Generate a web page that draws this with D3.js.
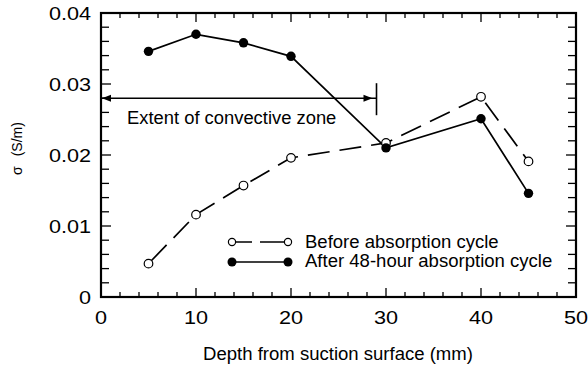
<!DOCTYPE html>
<html>
<head>
<meta charset="utf-8">
<script src="https://cdn.jsdelivr.net/npm/d3@7"></script>
<style>
  body { margin: 0; background: #fff; }
  text { font-family: "Liberation Sans", Arial, sans-serif; fill: #000; }
</style>
</head>
<body>
<div id="chart"></div>
<script>
const depths = [5, 10, 15, 20, 30, 40, 45];
const beforeValues = [0.0047, 0.0116, 0.0157, 0.0196, 0.0217, 0.0282, 0.0191];
const afterValues = [0.0346, 0.0370, 0.0358, 0.0339, 0.0210, 0.0251, 0.0146];
const xTicks = [0, 10, 20, 30, 40, 50];
const yTicks = [0, 0.01, 0.02, 0.03, 0.04];
const zoneExtent = [0, 29];
const zoneLevel = 0.028;

const W = 588, H = 366;
const margin = { top: 13, right: 12, bottom: 69, left: 101 };
const width = W - margin.left - margin.right;
const height = H - margin.top - margin.bottom;

const svg = d3.select('#chart').append('svg')
  .attr('width', W).attr('height', H);
const g = svg.append('g').attr('transform', `translate(${margin.left},${margin.top})`);

const x = d3.scaleLinear().domain([0, 50]).range([0, width]);
const y = d3.scaleLinear().domain([0, 0.04]).range([height, 0]);

// text placed with a slight horizontal stretch, like the source figure
function label(parent, px, py, str, size, sx, anchor) {
  return parent.append('text')
    .attr('transform', `translate(${px},${py}) scale(${sx},1)`)
    .attr('text-anchor', anchor || 'start')
    .style('font-size', size + 'px')
    .text(str);
}

// ticks (inside, all four sides)
const xMinor = d3.range(0, 50.01, 2);
const yMinor = d3.range(0, 0.04001, 0.002);
const tickG = g.append('g').attr('stroke', '#000').attr('stroke-width', 1.3);
xMinor.forEach(v => {
  const major = Math.abs(v % 10) < 1e-9;
  const len = major ? 9 : 5;
  tickG.append('line').attr('x1', x(v)).attr('x2', x(v)).attr('y1', height).attr('y2', height - len);
  tickG.append('line').attr('x1', x(v)).attr('x2', x(v)).attr('y1', 0).attr('y2', len);
});
yMinor.forEach(v => {
  const major = Math.abs(Math.round(v * 1000) % 10) === 0;
  const len = major ? 10 : 8;
  tickG.append('line').attr('y1', y(v)).attr('y2', y(v)).attr('x1', 0).attr('x2', len);
  tickG.append('line').attr('y1', y(v)).attr('y2', y(v)).attr('x1', width).attr('x2', width - len);
});

// frame
g.append('rect').attr('width', width).attr('height', height)
  .attr('fill', 'none').attr('stroke', '#000').attr('stroke-width', 2.2);

// tick labels
xTicks.forEach(d => label(g, x(d), height + 27, d, 18.5, 1.17, 'middle'));
yTicks.forEach(d => label(g, -10, y(d) + 7, d === 0 ? '0' : d.toFixed(2), 18.5, 1.17, 'end'));

// axis titles
label(g, 338 - margin.left, height + 63, 'Depth from suction surface (mm)', 17.5, 1.06, 'middle');
const yt = g.append('text')
  .attr('transform', `translate(${22 - margin.left},${175 - margin.top}) rotate(-90)`)
  .style('font-size', '14px');
yt.append('tspan').text('σ');
yt.append('tspan').attr('dx', 10).text('(S/m)');

// convective zone arrow
const zy = y(zoneLevel);
g.append('line').attr('x1', x(zoneExtent[0])).attr('x2', x(zoneExtent[1]))
  .attr('y1', zy).attr('y2', zy).attr('stroke', '#000').attr('stroke-width', 1.5);
g.append('line').attr('x1', x(zoneExtent[1])).attr('x2', x(zoneExtent[1]))
  .attr('y1', zy - 15).attr('y2', zy + 17).attr('stroke', '#000').attr('stroke-width', 1.6);
const ax0 = x(zoneExtent[0]) + 1, ax1 = x(zoneExtent[1]) - 4;
g.append('path').attr('d', `M${ax0},${zy} l9,-3.5 l0,7 Z`).attr('fill', '#000');
g.append('path').attr('d', `M${ax1},${zy} l-9,-3.5 l0,7 Z`).attr('fill', '#000');
label(g, 127 - margin.left, zy + 26, 'Extent of convective zone', 17.5, 1.05);

const line = d3.line().x(d => x(d[0])).y(d => y(d[1]));
const before = depths.map((d, i) => [d, beforeValues[i]]);
const after = depths.map((d, i) => [d, afterValues[i]]);

g.append('path').datum(before).attr('d', line).attr('fill', 'none')
  .attr('stroke', '#000').attr('stroke-width', 1.7).attr('stroke-dasharray', '22,10')
  .attr('stroke-dashoffset', -4);
g.append('path').datum(after).attr('d', line).attr('fill', 'none')
  .attr('stroke', '#000').attr('stroke-width', 1.7);

g.selectAll('.ob').data(before).enter().append('circle')
  .attr('cx', d => x(d[0])).attr('cy', d => y(d[1])).attr('r', 4.3)
  .attr('fill', '#fff').attr('stroke', '#000').attr('stroke-width', 1.2);
g.selectAll('.fa').data(after).enter().append('circle')
  .attr('cx', d => x(d[0])).attr('cy', d => y(d[1])).attr('r', 4.7)
  .attr('fill', '#000');

// legend
const lg = g.append('g').attr('transform', `translate(${232 - margin.left},0)`);
const ly1 = 242 - margin.top, ly2 = 262 - margin.top;
lg.append('line').attr('x1', 0).attr('x2', 56).attr('y1', ly1).attr('y2', ly1)
  .attr('stroke', '#000').attr('stroke-width', 1.7).attr('stroke-dasharray', '0,4,16,8,24,10');
lg.append('circle').attr('cx', 0).attr('cy', ly1).attr('r', 3.6).attr('fill', '#fff').attr('stroke', '#000').attr('stroke-width', 1.2);
lg.append('circle').attr('cx', 56).attr('cy', ly1).attr('r', 3.6).attr('fill', '#fff').attr('stroke', '#000').attr('stroke-width', 1.2);
lg.append('line').attr('x1', 0).attr('x2', 56).attr('y1', ly2).attr('y2', ly2)
  .attr('stroke', '#000').attr('stroke-width', 1.7);
lg.append('circle').attr('cx', 0).attr('cy', ly2).attr('r', 4.5).attr('fill', '#000');
lg.append('circle').attr('cx', 56).attr('cy', ly2).attr('r', 4.5).attr('fill', '#000');
label(lg, 73, ly1 + 6, 'Before absorption cycle', 17.5, 1.06);
label(lg, 73, ly2 + 5, 'After 48-hour absorption cycle', 17.5, 1.06);
</script>
</body>
</html>
